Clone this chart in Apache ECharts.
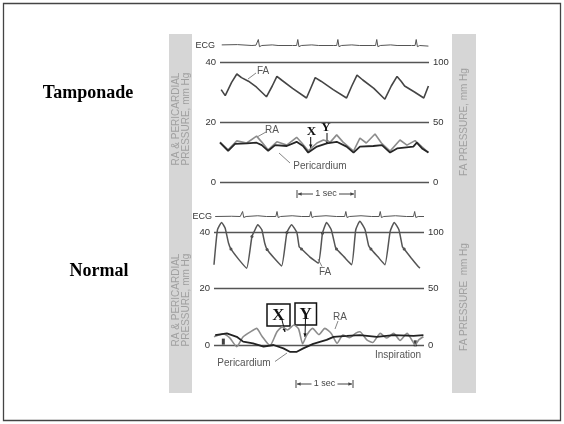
<!DOCTYPE html>
<html>
<head>
<meta charset="utf-8">
<script src="https://cdn.jsdelivr.net/npm/echarts@6/dist/echarts.min.js"></script>
<style>
  html, body { margin: 0; padding: 0; background: #fff; }
  #main { width: 564px; height: 424px; }
</style>
</head>
<body>
<div id="main"></div>
<script>
// time in seconds, pressures in mm Hg, ECG in arbitrary units (baseline 0, R wave 1)
const leftTicks = [0, 20, 40]
const rightTicks = [0, 50, 100]

// --- Tamponade ---
const tampEcg = [
  [0.03, 0.1], [0.3, 0.15], [0.55, 0], [0.62, 0.05], [0.64, 0], [0.66, 1], [0.68, -0.2], [0.72, 0],
  [0.9, 0.1], [1.0, 0], [1.25, 0], [1.32, 0], [1.34, 1], [1.36, -0.2], [1.40, 0], [1.58, 0.1],
  [1.7, 0], [1.96, 0], [2.01, 0], [2.03, 1], [2.05, -0.2], [2.09, 0], [2.27, 0.1], [2.4, 0],
  [2.62, 0], [2.68, 0], [2.70, 1], [2.72, -0.2], [2.76, 0], [2.94, 0.1], [3.05, 0], [3.3, 0],
  [3.36, 0], [3.38, 1], [3.40, -0.2], [3.44, 0], [3.59, -0.1]
]
const tampFa = [
  [0.02, 77], [0.09, 72], [0.20, 83], [0.29, 90], [0.37, 87], [0.49, 84], [0.63, 79], [0.80, 71],
  [0.90, 80], [0.98, 88], [1.06, 85], [1.25, 78], [1.49, 70],
  [1.57, 79], [1.64, 87], [1.74, 84], [1.95, 77], [2.18, 70],
  [2.27, 80], [2.36, 89], [2.46, 85], [2.65, 78], [2.84, 69],
  [2.95, 80], [3.05, 88], [3.12, 84], [3.18, 80], [3.35, 75], [3.51, 70], [3.59, 80]
]
const tampRa = [
  [0.00, 13.3], [0.14, 10.7], [0.29, 13.7], [0.46, 13.0], [0.63, 15.3], [0.72, 13.3], [0.83, 10.7],
  [0.98, 13.4], [1.15, 12.3], [1.32, 14.9], [1.41, 13.0], [1.52, 10.4], [1.67, 13.0], [1.78, 14.0],
  [1.90, 13.3], [2.01, 15.7], [2.12, 13.3], [2.30, 10.3], [2.41, 14.6], [2.52, 13.0], [2.67, 16.0],
  [2.78, 13.0], [2.93, 10.3], [3.10, 14.0], [3.22, 12.3], [3.36, 13.8], [3.48, 11.7], [3.59, 9.8]
]
const tampPeri = [
  [0.00, 13.1], [0.14, 10.4], [0.26, 12.7], [0.46, 12.9], [0.63, 13.1], [0.72, 12.3], [0.83, 10.4],
  [0.95, 12.3], [1.15, 12.0], [1.32, 13.4], [1.43, 12.0], [1.52, 9.8], [1.67, 11.8], [1.84, 12.9],
  [2.01, 13.4], [2.18, 11.8], [2.30, 9.8], [2.41, 11.8], [2.64, 12.0], [2.79, 12.3], [2.93, 9.8],
  [3.05, 11.2], [3.33, 11.8], [3.39, 13.1], [3.48, 11.2], [3.59, 9.8]
]

// --- Normal ---
const normEcg = [
  [0.02, 0], [0.3, 0.05], [0.45, 0], [0.47, 0], [0.49, 1], [0.51, -0.2], [0.55, 0], [0.75, 0.15],
  [0.9, 0], [1.06, 0], [1.08, 1], [1.10, -0.2], [1.14, 0], [1.34, 0.15], [1.5, 0], [1.64, 0],
  [1.66, 1], [1.68, -0.2], [1.72, 0], [1.92, 0.15], [2.1, 0], [2.24, 0], [2.26, 1], [2.28, -0.2],
  [2.32, 0], [2.52, 0.15], [2.7, 0], [2.83, 0], [2.85, 1], [2.87, -0.2], [2.91, 0], [3.11, 0.15],
  [3.3, 0], [3.42, 0], [3.44, 1], [3.46, -0.2], [3.50, 0], [3.6, 0]
]
const normFa = [
  [0.00, 71], [0.06, 102], [0.13, 108.5], [0.19, 103.5], [0.25, 90], [0.29, 85], [0.42, 76], [0.56, 68],
  [0.65, 96], [0.69, 100.5], [0.75, 106.5], [0.82, 102], [0.87, 90], [0.91, 84.5], [1.03, 77], [1.16, 70],
  [1.25, 99.5], [1.33, 106.5], [1.42, 99.5], [1.46, 87], [1.50, 85], [1.64, 78], [1.79, 72.5],
  [1.86, 99], [1.93, 108.5], [2.01, 102], [2.08, 87], [2.10, 85], [2.23, 78], [2.36, 71],
  [2.43, 102], [2.50, 109.5], [2.59, 102], [2.65, 88], [2.69, 85], [2.81, 78], [2.93, 71],
  [3.02, 100.5], [3.09, 108.5], [3.17, 102], [3.23, 87], [3.26, 85], [3.38, 77], [3.50, 69.5], [3.53, 68]
]
const normFaDots = [
  [0.06, 102], [0.29, 85], [0.65, 96], [0.91, 84.5], [1.25, 99.5], [1.50, 85],
  [1.86, 99], [2.10, 85], [2.43, 102], [2.69, 85], [3.02, 100.5], [3.26, 85]
]
const normRa = [
  [0.00, 2.9], [0.16, 3.9], [0.27, 2.5], [0.39, -0.6], [0.50, 2.9], [0.65, 5.0], [0.73, 5.9],
  [0.82, 3.2], [0.96, -0.2], [1.08, 4.7], [1.17, 6.4], [1.26, 5.3], [1.37, 7.1], [1.45, 5.7],
  [1.52, 0.4], [1.59, 3.5], [1.69, 5.9], [1.80, 3.7], [1.90, 5.9], [2.01, 4.1], [2.11, 0.6],
  [2.21, 3.5], [2.32, 2.6], [2.44, 4.3], [2.50, 4.7], [2.62, 1.8], [2.72, 0.9], [2.85, 4.1],
  [2.96, 2.5], [3.08, 4.1], [3.19, 1.6], [3.31, 4.1], [3.39, 1.8], [3.45, 0.0], [3.51, 1.8], [3.59, 2.9]
]
const normPeri = [
  [0.02, 3.5], [0.22, 4.1], [0.39, 2.9], [0.50, 1.2], [0.67, 0.6], [0.85, -0.6], [1.02, 0.0],
  [1.19, -1.2], [1.30, -2.4], [1.42, -2.4], [1.53, -1.2], [1.70, 0.4], [1.93, 1.8], [2.05, 2.9],
  [2.28, 3.2], [2.50, 3.5], [2.79, 2.9], [3.08, 3.5], [3.42, 3.2], [3.59, 3.5]
]
const inspiration = [[0.16, 1.2], [3.45, 0.6]]

const SANS = "'Liberation Sans', Arial, sans-serif"
const SERIF = "'Liberation Serif', 'Times New Roman', serif"

let dom = echarts.init(document.getElementById('main'), null, { renderer: 'canvas' })

function ecgAxis (grid) {
  return {
    type: 'value', gridIndex: grid, min: -1, max: 1, interval: 1,
    axisLine: { show: false }, axisTick: { show: false }, splitLine: { show: false },
    axisLabel: {
      margin: grid === 0 ? 5 : 2, fontSize: 9, color: '#333', fontFamily: SANS,
      formatter: v => (v === 0 ? 'ECG' : '')
    }
  }
}
function pressAxis (grid, ticks, pos) {
  return {
    type: 'value', gridIndex: grid, position: pos,
    min: ticks[0], max: ticks[ticks.length - 1], interval: ticks[1] - ticks[0],
    axisLine: { show: false }, axisTick: { show: false },
    splitLine: { show: pos === 'left', lineStyle: { color: '#555', width: 1.3 } },
    axisLabel: { margin: 4, fontSize: 9.5, color: '#333', fontFamily: SANS }
  }
}
function trace (data, x, y, color, width, extra) {
  return Object.assign({
    type: 'line', xAxisIndex: x, yAxisIndex: y, data: data,
    showSymbol: false, symbol: 'none', clip: false, silent: true,
    lineStyle: { color: color, width: width }
  }, extra || {})
}

// small annotation helpers (text labels, leader lines and arrows)
function txt (x, y, s, size, opts) {
  return {
    type: 'text', x: x, y: y, silent: true,
    style: Object.assign({ text: s, fontSize: size, fontFamily: SANS, fill: '#555',
      textAlign: 'center', textVerticalAlign: 'middle' }, opts || {})
  }
}
function seg (x1, y1, x2, y2, color, w) {
  return { type: 'line', silent: true, shape: { x1, y1, x2, y2 }, style: { stroke: color || '#666', lineWidth: w || 0.8 } }
}
function arrowHead (x, y, ang, size, color) {
  const a1 = ang + 2.7, a2 = ang - 2.7
  return {
    type: 'polygon', silent: true,
    shape: { points: [[x, y], [x + size * Math.cos(a1), y + size * Math.sin(a1)], [x + size * Math.cos(a2), y + size * Math.sin(a2)]] },
    style: { fill: color || '#111' }
  }
}
function arrow (x1, y1, x2, y2, color, w) {
  const ang = Math.atan2(y2 - y1, x2 - x1)
  return [seg(x1, y1, x2, y2, color || '#111', w || 1), arrowHead(x2, y2, ang, 4, color || '#111')]
}
function secBar (x1, x2, y) {
  const mid = (x1 + x2) / 2
  return [
    seg(x1, y - 4, x1, y + 4, '#444', 1), seg(x2, y - 4, x2, y + 4, '#444', 1),
    ...arrow(mid - 13, y, x1 + 1, y, '#444', 1), ...arrow(mid + 13, y, x2 - 1, y, '#444', 1),
    txt(mid, y, '1 sec', 9, { fill: '#444' })
  ]
}
function band (x, w) {
  return { type: 'rect', silent: true, shape: { x: x, y: 34, width: w, height: 359 }, style: { fill: '#d6d6d6' } }
}
function bandText (x, y, s) {
  return {
    type: 'text', x: x, y: y, rotation: Math.PI / 2, silent: true,
    style: { text: s, fontSize: 10, fontFamily: SANS, fill: '#a0a0a0', textAlign: 'center', textVerticalAlign: 'middle' }
  }
}
function box (x, y, w, h, s) {
  return [
    { type: 'rect', silent: true, shape: { x, y, width: w, height: h }, style: { fill: '#fff', stroke: '#111', lineWidth: 1.5 } },
    { type: 'text', silent: true, x: x + w / 2, y: y + h / 2 + 1,
      style: { text: s, fontSize: 17, fontWeight: 'bold', fontFamily: SERIF, fill: '#111', textAlign: 'center', textVerticalAlign: 'middle' } }
  ]
}

const graphics = [
  { type: 'rect', silent: true, shape: { x: 3.5, y: 3.5, width: 557, height: 417 }, style: { fill: 'none', stroke: '#444', lineWidth: 1.3 } },
  band(169, 23), band(452, 24),
  bandText(176.5, 119, 'RA & PERICARDIAL'), bandText(186, 119, 'PRESSURE, mm Hg'),
  bandText(176.5, 300, 'RA & PERICARDIAL'), bandText(186, 300, 'PRESSURE, mm Hg'),
  bandText(464, 122, 'FA PRESSURE, mm Hg'), bandText(464, 297, 'FA PRESSURE  mm Hg'),
  txt(88, 93, 'Tamponade', 18, { fontFamily: SERIF, fontWeight: 'bold', fill: '#000' }),
  txt(99, 271, 'Normal', 18, { fontFamily: SERIF, fontWeight: 'bold', fill: '#000' }),
  // tamponade labels
  txt(263, 71, 'FA', 10), seg(256, 73, 248, 79),
  txt(272, 130, 'RA', 10), seg(266, 132, 257, 137),
  txt(320, 166, 'Pericardium', 10), seg(290, 163, 279, 153),
  txt(311.5, 132, 'X', 13, { fontFamily: SERIF, fontWeight: 'bold', fill: '#111' }),
  ...arrow(310.7, 137, 310.7, 148),
  txt(326, 128, 'Y', 13, { fontFamily: SERIF, fontWeight: 'bold', fill: '#111' }),
  ...arrow(327, 133, 327, 144),
  ...secBar(297, 355, 194),
  // normal labels
  txt(325, 272, 'FA', 10), seg(322, 266.5, 318, 259),
  txt(340, 317, 'RA', 10), seg(338, 321, 335, 329),
  txt(244, 363, 'Pericardium', 10), seg(275, 361.5, 287, 353),
  txt(398, 355, 'Inspiration', 10),
  ...box(267, 304, 23, 22, 'X'), ...arrow(282, 320, 285, 332),
  ...box(295, 303, 21.5, 22, 'Y'), ...arrow(305.5, 318, 305, 337),
  ...secBar(296, 353, 384)
]

const option = {
  backgroundColor: '#fff',
  animation: false,
  grid: [
    { left: 220, top: 39.5, width: 209, height: 12 },
    { left: 220, top: 62, width: 209, height: 120 },
    { left: 214, top: 211.5, width: 210, height: 10 },
    { left: 214, top: 232, width: 210, height: 113 }
  ],
  xAxis: [0, 1, 2, 3].map(i => ({ type: 'value', gridIndex: i, min: 0, max: 3.6, show: false })),
  yAxis: [
    ecgAxis(0), pressAxis(1, leftTicks, 'left'), pressAxis(1, rightTicks, 'right'),
    ecgAxis(2), pressAxis(3, leftTicks, 'left'), pressAxis(3, rightTicks, 'right')
  ],
  series: [
    trace(tampEcg, 0, 0, '#555', 1),
    trace(tampFa, 1, 2, '#454545', 1.6),
    trace(tampRa, 1, 1, '#8c8c8c', 1.6),
    trace(tampPeri, 1, 1, '#262626', 1.8),
    trace(normEcg, 2, 3, '#555', 1),
    trace(normFa, 3, 5, '#555', 1.5, { smooth: 0.15 }),
    { type: 'scatter', xAxisIndex: 3, yAxisIndex: 5, data: normFaDots, symbolSize: 3, itemStyle: { color: '#222' }, silent: true },
    trace(normRa, 3, 4, '#8c8c8c', 1.6, { smooth: 0.2 }),
    trace(normPeri, 3, 4, '#222', 1.8),
    { type: 'scatter', xAxisIndex: 3, yAxisIndex: 4, data: inspiration, symbol: 'rect', symbolSize: [3, 6], itemStyle: { color: '#111' }, silent: true }
  ],
  graphic: graphics
}

dom.setOption(option)
window.addEventListener('resize', () => dom.resize())
</script>
</body>
</html>
